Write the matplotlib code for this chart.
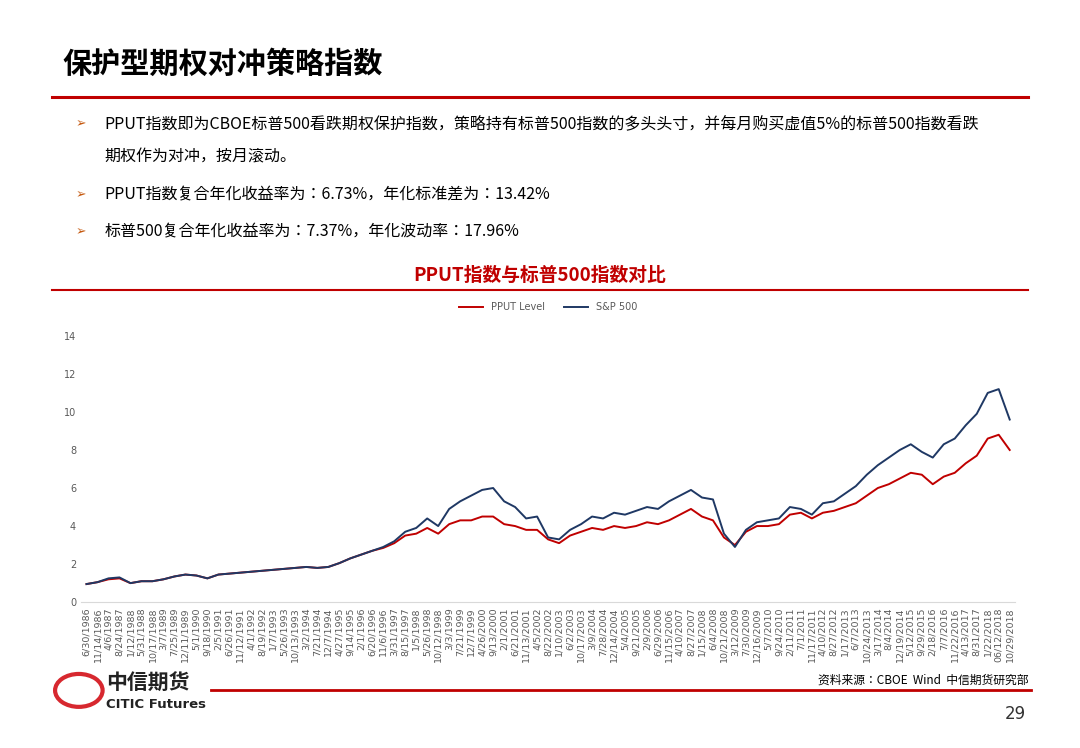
import matplotlib
matplotlib.use("Agg")
import matplotlib.pyplot as plt
from matplotlib import font_manager
from matplotlib.patches import Circle

cjk = sorted(set(f.name for f in font_manager.fontManager.ttflist if 'CJK' in f.name))
sans = [n for n in cjk if 'Sans' in n]
if 'Noto Sans CJK SC' in cjk:
    cjk_name = 'Noto Sans CJK SC'
elif sans:
    cjk_name = sans[0]
else:
    cjk_name = cjk[0] if cjk else 'DejaVu Sans'
plt.rcParams['font.family'] = [cjk_name, 'DejaVu Sans']

dates = ["6/30/1986", "11/14/1986", "4/6/1987", "8/24/1987", "1/12/1988", "5/31/1988", "10/17/1988",
         "3/7/1989", "7/25/1989", "12/11/1989", "5/1/1990", "9/18/1990", "2/5/1991", "6/26/1991",
         "11/12/1991", "4/1/1992", "8/19/1992", "1/7/1993", "5/26/1993", "10/13/1993", "3/2/1994",
         "7/21/1994", "12/7/1994", "4/27/1995", "9/14/1995", "2/1/1996", "6/20/1996", "11/6/1996",
         "3/31/1997", "8/15/1997", "1/5/1998", "5/26/1998", "10/12/1998", "3/3/1999", "7/21/1999",
         "12/7/1999", "4/26/2000", "9/13/2000", "2/1/2001", "6/21/2001", "11/13/2001", "4/5/2002",
         "8/22/2002", "1/10/2003", "6/2/2003", "10/17/2003", "3/9/2004", "7/28/2004", "12/14/2004",
         "5/4/2005", "9/21/2005", "2/9/2006", "6/29/2006", "11/15/2006", "4/10/2007", "8/27/2007",
         "1/15/2008", "6/4/2008", "10/21/2008", "3/12/2009", "7/30/2009", "12/16/2009", "5/7/2010",
         "9/24/2010", "2/11/2011", "7/1/2011", "11/17/2011", "4/10/2012", "8/27/2012", "1/17/2013",
         "6/7/2013", "10/24/2013", "3/17/2014", "8/4/2014", "12/19/2014", "5/12/2015", "9/29/2015",
         "2/18/2016", "7/7/2016", "11/22/2016", "4/13/2017", "8/31/2017", "1/22/2018", "06/12/2018",
         "10/29/2018"]

spx = [0.95, 1.05, 1.25, 1.3, 1.0, 1.1, 1.1, 1.2, 1.35, 1.45, 1.4, 1.25, 1.45, 1.5,
       1.55, 1.6, 1.65, 1.7, 1.75, 1.8, 1.85, 1.8, 1.85, 2.05, 2.3, 2.5, 2.7, 2.9,
       3.2, 3.7, 3.9, 4.4, 4.0, 4.9, 5.3, 5.6, 5.9, 6.0, 5.3, 5.0, 4.4, 4.5,
       3.4, 3.3, 3.8, 4.1, 4.5, 4.4, 4.7, 4.6, 4.8, 5.0, 4.9, 5.3, 5.6, 5.9,
       5.5, 5.4, 3.6, 2.9, 3.8, 4.2, 4.3, 4.4, 5.0, 4.9, 4.6, 5.2, 5.3, 5.7,
       6.1, 6.7, 7.2, 7.6, 8.0, 8.3, 7.9, 7.6, 8.3, 8.6, 9.3, 9.9, 11.0, 11.2, 9.6]

pput = [0.95, 1.05, 1.2, 1.25, 1.0, 1.1, 1.1, 1.2, 1.35, 1.45, 1.4, 1.25, 1.45, 1.5,
        1.55, 1.6, 1.65, 1.7, 1.75, 1.8, 1.85, 1.8, 1.85, 2.05, 2.3, 2.5, 2.7, 2.85,
        3.1, 3.5, 3.6, 3.9, 3.6, 4.1, 4.3, 4.3, 4.5, 4.5, 4.1, 4.0, 3.8, 3.8,
        3.3, 3.1, 3.5, 3.7, 3.9, 3.8, 4.0, 3.9, 4.0, 4.2, 4.1, 4.3, 4.6, 4.9,
        4.5, 4.3, 3.4, 3.0, 3.7, 4.0, 4.0, 4.1, 4.6, 4.7, 4.4, 4.7, 4.8, 5.0,
        5.2, 5.6, 6.0, 6.2, 6.5, 6.8, 6.7, 6.2, 6.6, 6.8, 7.3, 7.7, 8.6, 8.8, 8.0]

red = '#C00000'
navy = '#1F3864'

fig = plt.figure(figsize=(10.8, 7.48), dpi=100)

fig.text(0.058, 0.915, '保护型期权对冲策略指数', fontsize=21, fontweight='bold', va='center')
fig.add_artist(plt.Line2D([0.048, 0.952], [0.870, 0.870], color=red, lw=2.2))

bullets = [(0.835, 'PPUT指数即为CBOE标普500看跌期权保护指数，策略持有标普500指数的多头头寸，并每月购买虚值5%的标普500指数看跌'),
           (0.790, '期权作为对冲，按月滚动。'),
           (0.740, 'PPUT指数复合年化收益率为：6.73%，年化标准差为：13.42%'),
           (0.690, '标普500复合年化收益率为：7.37%，年化波动率：17.96%')]
for i, (y, t) in enumerate(bullets):
    if i != 1:
        fig.text(0.07, y, '➢', fontsize=9, color='#C55A11', va='center', family='DejaVu Sans')
    fig.text(0.097, y, t, fontsize=11.5, va='center')

fig.text(0.5, 0.632, 'PPUT指数与标普500指数对比', fontsize=13.5, fontweight='bold', color=red,
         ha='center', va='center')
fig.add_artist(plt.Line2D([0.048, 0.952], [0.612, 0.612], color=red, lw=1.5))

ax = fig.add_axes([0.075, 0.195, 0.865, 0.356])
x = list(range(len(dates)))
ax.plot(x, pput, color=red, lw=1.4, label='PPUT Level')
ax.plot(x, spx, color=navy, lw=1.4, label='S&P 500')
ax.set_ylim(0, 14)
ax.set_yticks(range(0, 15, 2))
ax.set_xlim(-0.5, len(dates) - 0.5)
ax.set_xticks(x)
ax.set_xticklabels(dates, rotation=90, fontsize=6.8, color='#595959', family='DejaVu Sans')
ax.set_yticklabels([str(v) for v in range(0, 15, 2)], family='DejaVu Sans')
ax.tick_params(axis='y', labelsize=7, colors='#595959', length=0)
ax.tick_params(axis='x', length=0)
for s in ['top', 'right', 'left']:
    ax.spines[s].set_visible(False)
ax.spines['bottom'].set_color('#D9D9D9')
ax.legend(loc='upper center', bbox_to_anchor=(0.5, 1.16), ncol=2, frameon=False,
          prop={'size': 7, 'family': 'DejaVu Sans'}, labelcolor='#595959', handlelength=2.5)

# footer
fig.add_artist(Circle((0.073, 0.077), 0.022, transform=fig.transFigure, fill=False,
                      ec='#D7282F', lw=3))
fig.text(0.098, 0.088, '中信期货', fontsize=15, fontweight='bold', color='#222222', va='center')
fig.text(0.098, 0.058, 'CITIC Futures', fontsize=9.5, fontweight='bold', color='#222222', va='center',
         family='DejaVu Sans')
fig.add_artist(plt.Line2D([0.195, 0.955], [0.078, 0.078], color=red, lw=2))
fig.text(0.952, 0.091, '资料来源：CBOE  Wind  中信期货研究部', fontsize=8.5, ha='right', va='center')
fig.text(0.95, 0.045, '29', fontsize=12, ha='right', va='center', color='#333333', family='DejaVu Sans')

fig.savefig('out.png', dpi=100)
